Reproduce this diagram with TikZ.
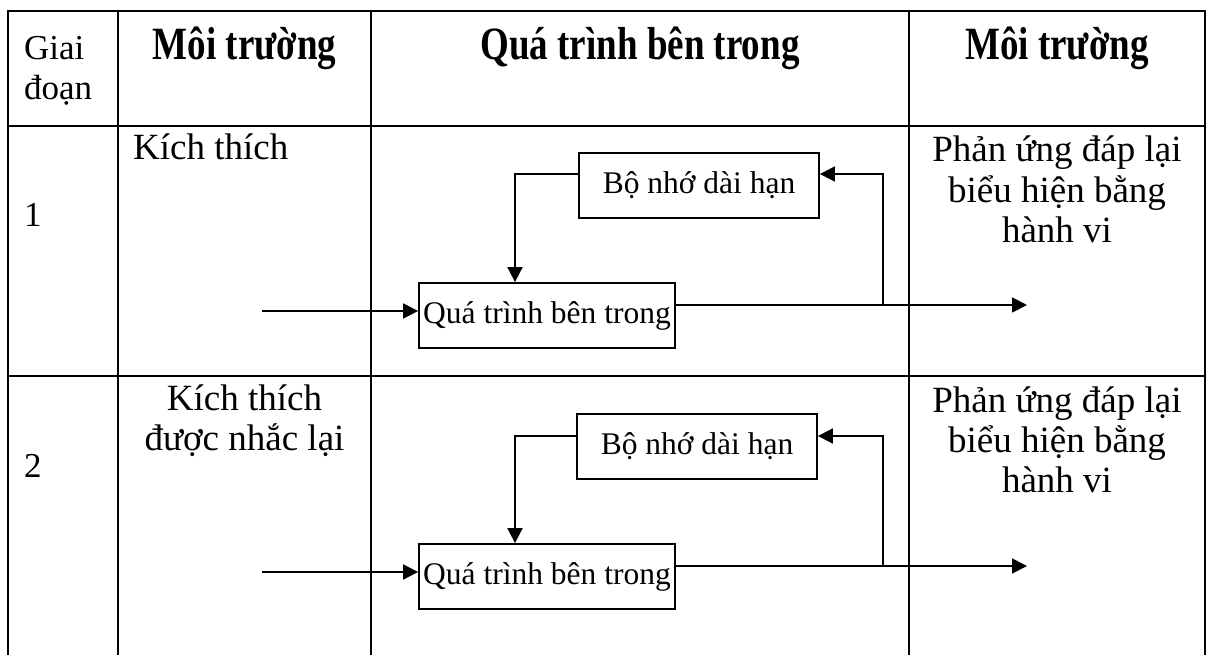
\documentclass[tikz,border=0pt]{standalone}
\usepackage{fontspec}
\setmainfont{Liberation Serif}
\usetikzlibrary{arrows.meta}
\begin{document}
\begin{tikzpicture}[x=1pt,y=-1pt,
  gridline/.style={line width=2.6pt},
  memnode/.style={draw,line width=1.8pt,minimum width=240pt,minimum height=65pt,inner sep=0pt,font=\fontsize{31.5}{36}\selectfont},
  procnode/.style={draw,line width=1.8pt,minimum width=256pt,minimum height=65pt,inner sep=0pt,font=\fontsize{31.5}{36}\selectfont},
  conn/.style={line width=1.8pt,-{Triangle[length=15pt,width=15pt]}},
  hdr/.style={font=\fontsize{37}{42}\selectfont\bfseries,anchor=base,inner sep=0pt},
  body/.style={font=\fontsize{37}{42}\selectfont,anchor=base,inner sep=0pt},
  small/.style={font=\fontsize{35}{40}\selectfont,anchor=base west,inner sep=0pt},
]
\useasboundingbox (0,0) rectangle (1209,655);
% table grid
\draw[gridline] (8,655) -- (8,11) -- (1205,11) -- (1205,655);
\draw[gridline] (118,11) -- (118,655);
\draw[gridline] (371,11) -- (371,655);
\draw[gridline] (909,11) -- (909,655);
\draw[gridline] (8,126) -- (1205,126);
\draw[gridline] (8,376) -- (1205,376);
% header
\node[small] (giai) at (24,60) {Giai};
\node[small] (doan) at (24,100) {đoạn};
\node[hdr] (envL) at (244.5,60) {\scalebox{1}[1.25]{Môi trường}};
\node[hdr] (proc) at (640,60) {\scalebox{1}[1.25]{Quá trình bên trong}};
\node[hdr] (envR) at (1057,60) {\scalebox{1}[1.25]{Môi trường}};
% row 1
\node[small] (st1) at (24,226) {1};
\node[body,anchor=base west] (stim1) at (133,160) {Kích thích};
\node[body] (resA1) at (1057,162) {Phản ứng đáp lại};
\node[body] (resB1) at (1057,202) {biểu hiện bằng};
\node[body] (resC1) at (1057,242) {hành vi};
\node[memnode] (mem1) at (699,185.5) {Bộ nhớ dài hạn};
\node[procnode] (q1) at (547,315.5) {Quá trình bên trong};
\coordinate (in1) at (262,311);
\coordinate (fb1) at (515,174);
\coordinate (out1) at (1027,305);
\coordinate (ret1) at (883,174);
\draw[conn] (in1) -- (in1 -| q1.west);
\draw[conn] (fb1 -| mem1.west) -- (fb1) -- (fb1 |- q1.north);
\draw[conn] (out1 -| q1.east) -- (out1);
\draw[conn] (ret1 |- out1) -- (ret1) -- (ret1 -| mem1.east);
% row 2
\node[small] (st2) at (24,477) {2};
\node[body] (stimA2) at (244.5,410) {Kích thích};
\node[body] (stimB2) at (244.5,450) {được nhắc lại};
\node[body] (resA2) at (1057,412) {Phản ứng đáp lại};
\node[body] (resB2) at (1057,452) {biểu hiện bằng};
\node[body] (resC2) at (1057,492) {hành vi};
\node[memnode] (mem2) at (697,446.5) {Bộ nhớ dài hạn};
\node[procnode] (q2) at (547,576.5) {Quá trình bên trong};
\coordinate (in2) at (262,572);
\coordinate (fb2) at (515,436);
\coordinate (out2) at (1027,566);
\coordinate (ret2) at (883,436);
\draw[conn] (in2) -- (in2 -| q2.west);
\draw[conn] (fb2 -| mem2.west) -- (fb2) -- (fb2 |- q2.north);
\draw[conn] (out2 -| q2.east) -- (out2);
\draw[conn] (ret2 |- out2) -- (ret2) -- (ret2 -| mem2.east);
\end{tikzpicture}
\end{document}
